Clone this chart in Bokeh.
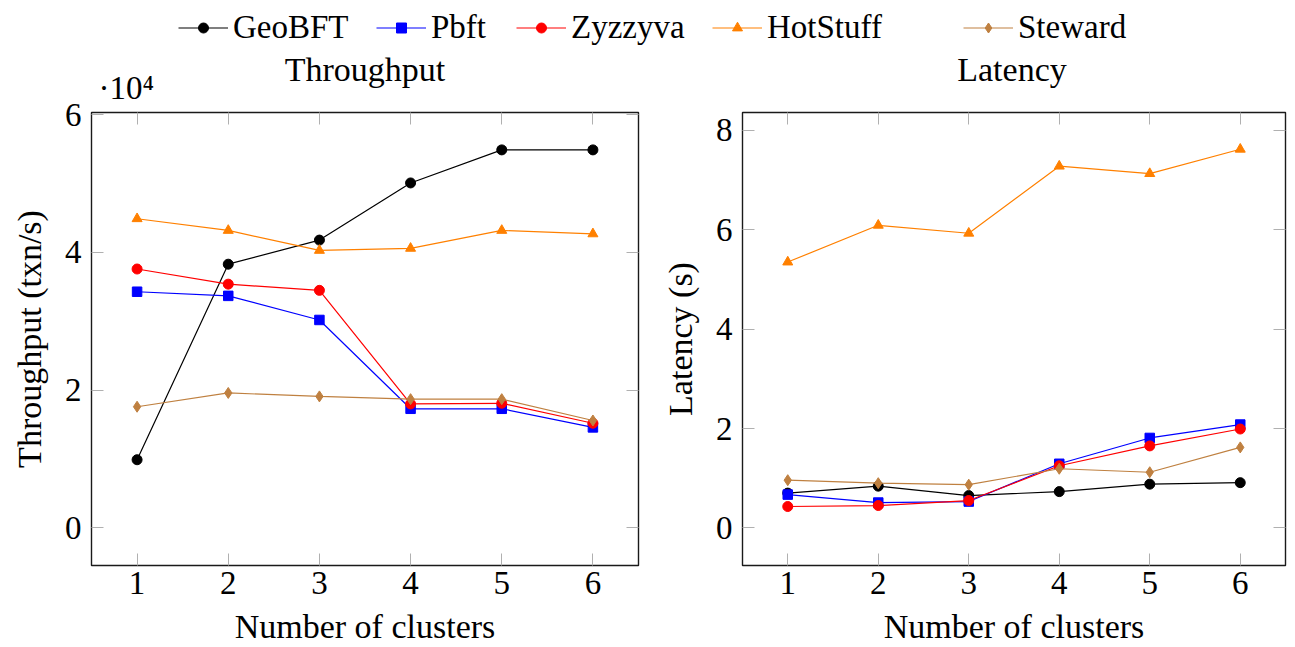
from bokeh.plotting import figure
from bokeh.models import (Range1d, LinearAxis, FixedTicker, Label, Legend, LegendItem,
                          CustomJSTickFormatter)
from bokeh.layouts import column, row
from bokeh.embed import file_html
from bokeh.resources import INLINE

# ---------------- data ----------------
clusters = [1, 2, 3, 4, 5, 6]
series_names = ["GeoBFT", "Pbft", "Zyzzyva", "HotStuff", "Steward"]

throughput_geobft = [9900, 38300, 41800, 50100, 54900, 54900]
throughput_pbft = [34300, 33700, 30200, 17300, 17300, 14600]
throughput_zyzzyva = [37600, 35400, 34500, 18000, 18100, 15200]
throughput_hotstuff = [44900, 43200, 40300, 40600, 43200, 42700]
throughput_steward = [17600, 19600, 19100, 18700, 18700, 15600]

latency_geobft = [0.70, 0.84, 0.65, 0.73, 0.88, 0.91]
latency_pbft = [0.67, 0.51, 0.53, 1.29, 1.81, 2.08]
latency_zyzzyva = [0.43, 0.45, 0.55, 1.25, 1.65, 1.99]
latency_hotstuff = [5.35, 6.09, 5.93, 7.28, 7.13, 7.62]
latency_steward = [0.96, 0.90, 0.87, 1.19, 1.12, 1.62]

throughput_ticks = [0, 20000, 40000, 60000]
throughput_tick_labels = ["0", "2", "4", "6"]
latency_ticks = [0, 2, 4, 6, 8]
latency_tick_labels = ["0", "2", "4", "6", "8"]

throughput = [throughput_geobft, throughput_pbft, throughput_zyzzyva,
              throughput_hotstuff, throughput_steward]
latency = [latency_geobft, latency_pbft, latency_zyzzyva,
           latency_hotstuff, latency_steward]

# ---------------- style ----------------
FONT = "Liberation Serif"
colors = ["#000000", "#0000ff", "#ff0000", "#ff8000", "#bf8040"]
markers = ["circle", "square", "circle", "triangle", "diamond"]
msizes = [10, 9.5, 10, 10, 11]
TICK_COL = "#b0b0b0"
HEADER_H = 112
OVERLAP = 18
MAIN_H = 647 - HEADER_H + OVERLAP


def style_axis(ax, ticks, labels, show_labels=True, standoff=5):
    ax.ticker = FixedTicker(ticks=ticks)
    ax.axis_line_color = None
    ax.major_tick_in = 12
    ax.major_tick_out = 0
    ax.major_tick_line_color = TICK_COL
    ax.major_tick_line_width = 1
    ax.minor_tick_line_color = None
    if show_labels:
        ax.major_label_overrides = {t: l for t, l in zip(ticks, labels)}
        ax.major_label_text_font = FONT
        ax.major_label_text_font_size = "33px"
        ax.major_label_text_color = "black"
        ax.major_label_standoff = standoff
        ax.axis_label_text_font = FONT
        ax.axis_label_text_font_size = "34px"
        ax.axis_label_text_font_style = "normal"
        ax.axis_label_text_color = "black"
    else:
        ax.formatter = CustomJSTickFormatter(code="return ''")
        ax.major_label_text_font_size = "0px"
        ax.major_label_standoff = 0


def make_fig(width, mleft, mright, ylo, yhi, yticks, ylabels, ydata, ylab):
    p = figure(width=width, height=MAIN_H, x_range=Range1d(0.5, 6.5),
               y_range=Range1d(ylo, yhi), output_backend="svg",
               toolbar_location=None, min_border_left=mleft,
               min_border_right=mright, min_border_top=OVERLAP,
               min_border_bottom=81)
    p.grid.visible = False
    p.outline_line_color = "#1a1a1a"
    p.outline_line_width = 1.4
    p.background_fill_color = "white"
    p.border_fill_alpha = 0
    style_axis(p.xaxis[0], clusters, [str(c) for c in clusters], True, 6)
    style_axis(p.yaxis[0], yticks, ylabels, True, 10)
    p.xaxis[0].axis_label = "Number of clusters"
    p.xaxis[0].axis_label_standoff = 11
    p.yaxis[0].axis_label = ylab
    p.yaxis[0].axis_label_standoff = 14
    top = LinearAxis()
    style_axis(top, clusters, None, False)
    p.add_layout(top, "above")
    right = LinearAxis()
    style_axis(right, yticks, None, False)
    p.add_layout(right, "right")

    for i in range(len(series_names)):
        p.line(clusters, ydata[i], line_color=colors[i], line_width=1.2)
        p.scatter(clusters, ydata[i], marker=markers[i], size=msizes[i],
                  fill_color=colors[i], line_color=colors[i])
    return p


p1 = make_fig(658, 91, 20, -5460, 60330, throughput_ticks, throughput_tick_labels,
              throughput, "Throughput (txn/s)")
p2 = make_fig(637, 80, 10, -0.757, 8.36, latency_ticks, latency_tick_labels,
              latency, "Latency (s)")

# ---------------- header: legend + subplot titles ----------------
hdr = figure(width=1295, height=HEADER_H, x_range=Range1d(0, 1295),
             y_range=Range1d(HEADER_H, 0), output_backend="svg",
             toolbar_location=None, min_border=0,
             x_axis_location=None, y_axis_location=None)
hdr.grid.visible = False
hdr.outline_line_color = None
hdr.border_fill_color = "white"
hdr.background_fill_color = "white"

legend_x = [178, 376, 516, 712, 963]
for i, name in enumerate(series_names):
    # hidden copies of the series, used only as legend samples
    lr = hdr.line(clusters, throughput[i], line_color=colors[i], line_width=1.2,
                  visible=False)
    sr = hdr.scatter(clusters, throughput[i], marker=markers[i], size=msizes[i],
                     fill_color=colors[i], line_color=colors[i], visible=False)
    lg = Legend(items=[LegendItem(label=name, renderers=[lr, sr])],
                location=(legend_x[i], HEADER_H - 46), orientation="horizontal",
                padding=0, margin=0, border_line_color=None,
                background_fill_alpha=0, glyph_width=50, glyph_height=25,
                label_standoff=5, label_text_font=FONT,
                label_text_font_size="33px", label_text_color="black")
    hdr.add_layout(lg)

hdr.add_layout(Label(x=364.5, y=69, text="Throughput", text_align="center",
                     text_baseline="alphabetic", text_font=FONT,
                     text_font_size="34px", text_color="black"))
hdr.add_layout(Label(x=1011.5, y=69, text="Latency", text_align="center",
                     text_baseline="alphabetic", text_font=FONT,
                     text_font_size="34px", text_color="black"))
hdr.add_layout(Label(x=98, y=87, text="·10⁴", text_align="left",
                     text_baseline="alphabetic", text_font=FONT,
                     text_font_size="33px", text_color="black"))

layout = column(hdr, row(p1, p2, margin=(-OVERLAP, 0, 0, 0)))
open("out.html", "w").write(file_html(layout, INLINE))
